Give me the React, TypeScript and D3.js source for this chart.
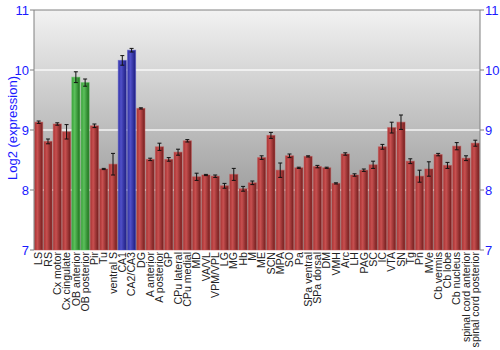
import React from "react";
import * as d3 from "d3";

const categories = ["LS","RS","Cx motor","Cx cingulate","OB anterior","OB posterior","Pir","Tu","ventral S","CA1","CA2/CA3","DG","A anterior","A posterior","GP","CPu lateral","CPu medial","MD","VA/VL","VPM/VPL","LG","MG","Hb","M","ME","SCN","MPA","SO","Pa","SPa ventral","SPa dorsal","DM","VMH","Arc","LH","PAG","SC","IC","VTA","SN","Tg","Pn","MVe","Cb vermis","Cb lobe","Cb nucleus","spinal cord anterior","spinal cord posterior"];
const values = [9.13,8.81,9.10,8.97,9.88,9.79,9.07,8.35,8.43,10.16,10.33,9.36,8.51,8.72,8.51,8.63,8.82,8.22,8.25,8.23,8.07,8.26,8.02,8.12,8.54,8.91,8.33,8.57,8.37,8.56,8.39,8.37,8.11,8.60,8.25,8.33,8.42,8.72,9.04,9.13,8.48,8.23,8.35,8.59,8.41,8.73,8.53,8.78];
const errors = [0.02,0.04,0.02,0.12,0.09,0.06,0.03,0.01,0.18,0.08,0.03,0.01,0.02,0.06,0.03,0.05,0.02,0.06,0.01,0.02,0.04,0.1,0.04,0.03,0.03,0.05,0.12,0.03,0.01,0.01,0.02,0.01,0.01,0.02,0.02,0.02,0.06,0.04,0.09,0.12,0.04,0.1,0.12,0.02,0.05,0.06,0.04,0.05];
const groups = ["r","r","r","r","g","g","r","r","r","b","b","r","r","r","r","r","r","r","r","r","r","r","r","r","r","r","r","r","r","r","r","r","r","r","r","r","r","r","r","r","r","r","r","r","r","r","r","r"];
const yTicks = [7, 8, 9, 10, 11];

const palette: Record<string, [string, string, string]> = {
  r: ["#a83232", "#c85050", "#701c1c"],
  g: ["#38a038", "#5cc05c", "#1c701c"],
  b: ["#3232a8", "#5050c8", "#1c1c80"],
};

export default function App() {
  const W = 500, H = 350;
  const left = 34, right = 480, top = 10, bottom = 250;
  const x = d3.scaleBand<string>().domain(categories).range([left, right]).paddingInner(0.13).paddingOuter(0.07);
  const y = d3.scaleLinear().domain([7, 11]).range([bottom, top]);
  const bw = x.bandwidth();
  return (
    <svg width={W} height={H} style={{ position: "absolute", left: 0, top: 0, fontFamily: "'Liberation Sans', Arial, sans-serif" }}>
      <defs>
        <linearGradient id="bg" x1="0" y1="0" x2="0" y2="1">
          <stop offset="0" stopColor="#f2f2f2" />
          <stop offset="1" stopColor="#868686" />
        </linearGradient>
        {Object.entries(palette).map(([k, c]) => (
          <linearGradient key={k} id={"bar-" + k} x1="0" y1="0" x2="1" y2="0">
            <stop offset="0" stopColor={c[0]} />
            <stop offset="0.35" stopColor={c[1]} />
            <stop offset="1" stopColor={c[2]} />
          </linearGradient>
        ))}
      </defs>
      <rect x={0} y={0} width={W} height={H} fill="#ffffff" />
      <rect x={left} y={top} width={right - left} height={bottom - top} fill="url(#bg)" />
      {yTicks.filter(t => t > 7 && t < 11).map(t => (
        <line key={"g" + t} x1={left} x2={right} y1={y(t)} y2={y(t)} stroke="#ffffff" strokeWidth={1.5} opacity={0.85} />
      ))}
      {categories.map((c, i) => {
        const x0 = x(c)!;
        const v = values[i];
        const col = palette[groups[i]];
        return (
          <g key={c}>
            <rect x={x0} y={y(v)} width={bw} height={bottom - y(v)} fill={`url(#bar-${groups[i]})`} stroke={col[1]} strokeOpacity={0.5} strokeWidth={1} />
          </g>
        );
      })}
      {categories.map((c, i) => {
        const cx = x(c)! + bw / 2;
        const v = values[i], e = errors[i];
        return (
          <g key={"e" + c} stroke="#111" strokeWidth={1}>
            <line x1={cx} x2={cx} y1={y(v + e)} y2={y(v - e)} />
            <line x1={cx - 2} x2={cx + 2} y1={y(v + e)} y2={y(v + e)} />
            <line x1={cx - 2} x2={cx + 2} y1={y(v - e)} y2={y(v - e)} />
          </g>
        );
      })}
      <line x1={left} x2={right} y1={top} y2={top} stroke="#808080" />
      <line x1={left} x2={left} y1={top} y2={bottom} stroke="#808080" />
      <line x1={right} x2={right} y1={top} y2={bottom} stroke="#808080" />
      {yTicks.map(t => (
        <g key={"t" + t}>
          <line x1={left - 4} x2={left} y1={y(t)} y2={y(t)} stroke="#808080" />
          <line x1={right} x2={right + 4} y1={y(t)} y2={y(t)} stroke="#808080" />
          <text x={left - 5} y={y(t)} dy="0.35em" textAnchor="end" fontSize={13} fill="#1a1aff">{t}</text>
          <text x={right + 5} y={y(t)} dy="0.35em" textAnchor="start" fontSize={13} fill="#1a1aff">{t}</text>
        </g>
      ))}
      <text transform={`translate(12,${(top + bottom) / 2 - 2}) rotate(-90)`} textAnchor="middle" dy="0.35em" fontSize={13} fill="#1a1aff">Log2 (expression)</text>
      {categories.map(c => {
        const cx = x(c)! + bw / 2;
        return (
          <text key={"l" + c} transform={`translate(${cx},${bottom + 2}) rotate(-90)`} textAnchor="end" dy="0.35em" fontSize={10.6} fill="#222">{c}</text>
        );
      })}
    </svg>
  );
}
